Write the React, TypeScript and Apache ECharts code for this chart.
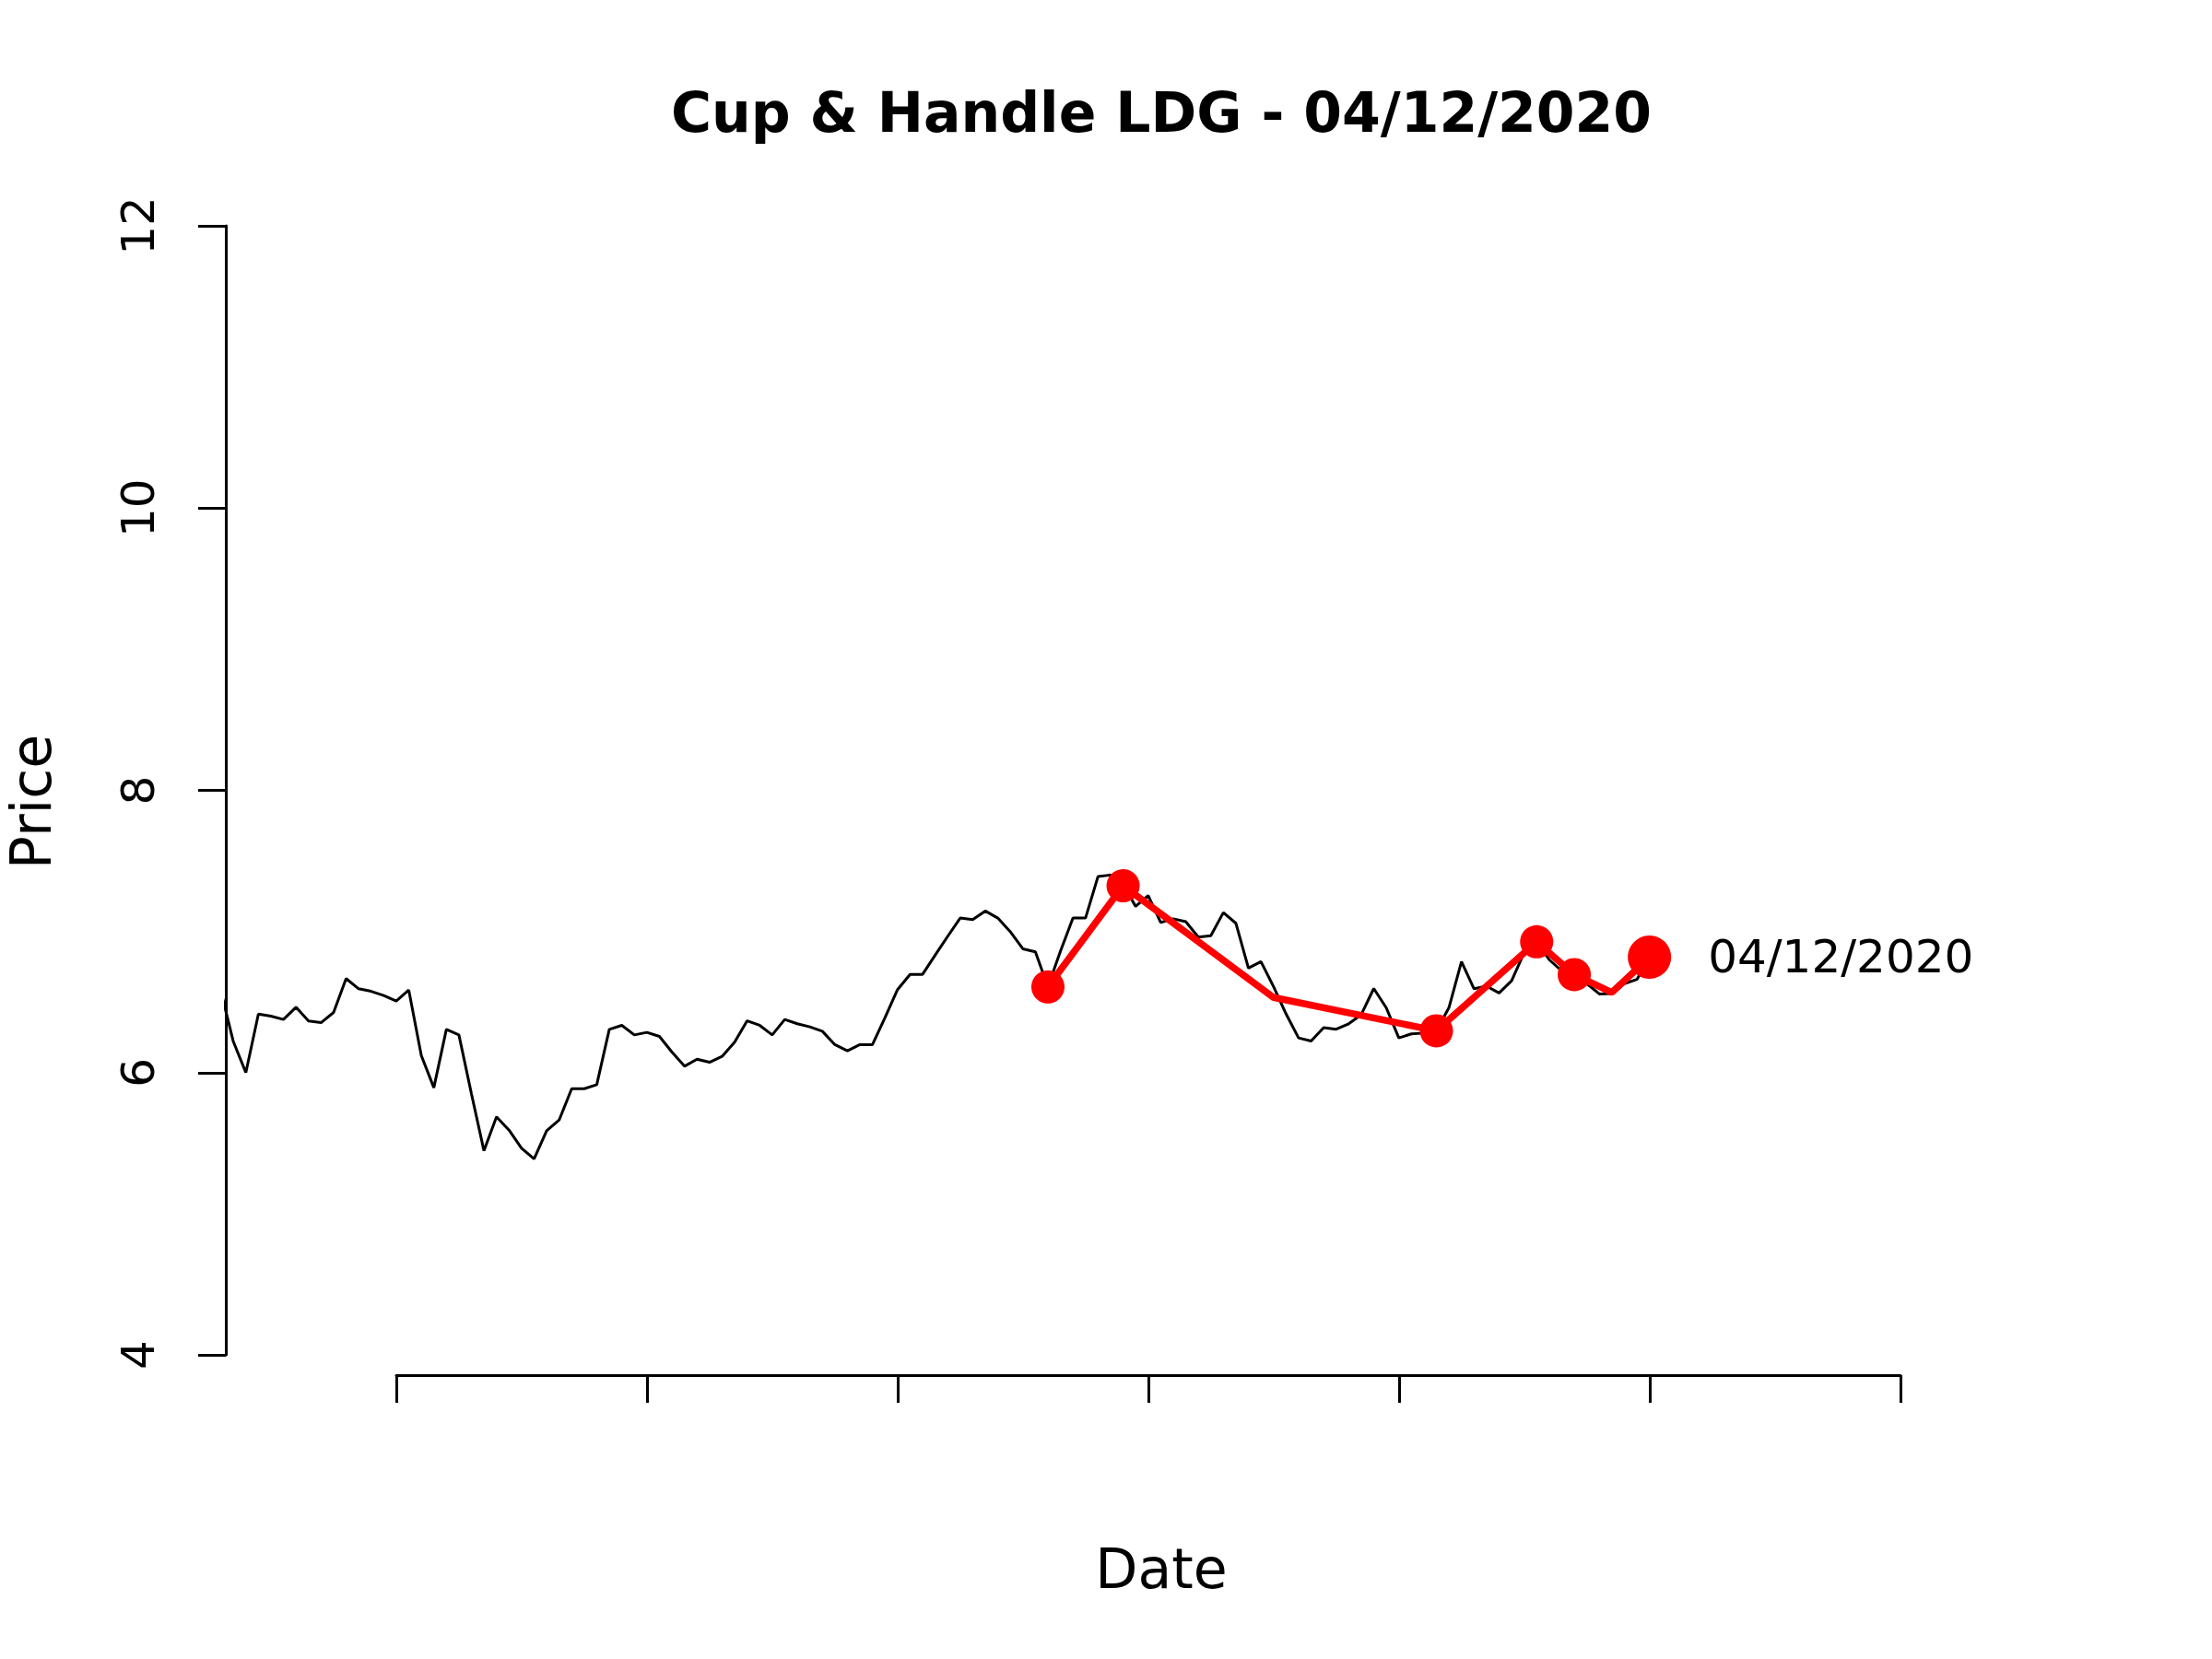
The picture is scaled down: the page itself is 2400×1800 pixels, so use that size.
import React, { useEffect, useRef } from "react";
import * as echarts from "echarts";

const TITLE = "Cup & Handle LDG - 04/12/2020";
const X_LABEL = "Date";
const Y_LABEL = "Price";
const CURRENT_LABEL = "04/12/2020";

// trading-day index of the first price in closePrices
const FIRST_DAY = 6;
const closePrices = [
  6.58, 6.22, 6.0, 6.415, 6.4, 6.376, 6.463, 6.365, 6.354, 6.426,
  6.666, 6.594, 6.576, 6.546, 6.507, 6.585, 6.121, 5.893, 6.306, 6.267,
  5.85, 5.446, 5.686, 5.592, 5.464, 5.388, 5.588, 5.664, 5.886, 5.886,
  5.914, 6.306, 6.335, 6.267, 6.285, 6.256, 6.145, 6.045, 6.095, 6.073,
  6.115, 6.215, 6.367, 6.335, 6.267, 6.376, 6.346, 6.324, 6.293, 6.198,
  6.154, 6.198, 6.198, 6.39, 6.588, 6.696, 6.696, 6.832, 6.965, 7.095,
  7.084, 7.145, 7.095, 6.998, 6.877, 6.856, 6.607, 6.86, 7.095, 7.095,
  7.39, 7.4, 7.33, 7.178, 7.254, 7.064, 7.09, 7.069, 6.96, 6.97,
  7.134, 7.058, 6.74, 6.786, 6.61, 6.416, 6.246, 6.224, 6.318, 6.307,
  6.346, 6.41, 6.596, 6.459, 6.246, 6.274, 6.28, 6.296, 6.46, 6.786,
  6.594, 6.612, 6.564, 6.651, 6.85, 6.927, 6.8, 6.72, 6.694, 6.63,
  6.557, 6.56, 6.63, 6.66, 6.818,
];

const patternDays = [72, 78, 90, 103, 111, 114, 117, 120];
const patternPrices = [6.607, 7.324, 6.532, 6.296, 6.927, 6.694, 6.568, 6.818];
const patternMarked = [true, true, false, true, true, true, false, true];

const yTicks = [4, 6, 8, 10, 12];
const xTicks = [20, 40, 60, 80, 100, 120, 140];
const xView = [6.4, 155.4];

const FONT = "DejaVu Sans";

export default function App() {
  const ref = useRef<HTMLDivElement>(null);

  useEffect(() => {
    if (!ref.current) return;
    const chart = echarts.init(ref.current, undefined, { renderer: "svg" });
    const last = patternDays.length - 1;
    const option: any = {
      animation: false,
      backgroundColor: "#ffffff",
      grid: [
        { left: 245, top: 245, width: 2026, height: 1225 },
        { left: 430, top: 1442, width: 1632, height: 50 },
      ],
      xAxis: [
        { type: "value", gridIndex: 0, min: xView[0], max: xView[1], show: false },
        {
          type: "value",
          gridIndex: 1,
          min: xTicks[0],
          max: xTicks[xTicks.length - 1],
          interval: xTicks[1] - xTicks[0],
          position: "bottom",
          axisLine: { show: true, onZero: false, lineStyle: { color: "#000", width: 3 } },
          axisTick: { show: true, length: 30, lineStyle: { color: "#000", width: 3 } },
          axisLabel: { show: false },
          splitLine: { show: false },
        },
      ],
      yAxis: [
        {
          type: "value",
          gridIndex: 0,
          min: yTicks[0],
          max: yTicks[yTicks.length - 1],
          interval: yTicks[1] - yTicks[0],
          position: "left",
          axisLine: { show: true, onZero: false, lineStyle: { color: "#000", width: 3 } },
          axisTick: { show: true, length: 30, lineStyle: { color: "#000", width: 3 } },
          axisLabel: { rotate: 90, fontSize: 50, color: "#000", fontFamily: FONT, margin: 70 },
          splitLine: { show: false },
        },
        { type: "value", gridIndex: 1, show: false, min: 0, max: 1 },
      ],
      graphic: [
        {
          type: "text",
          x: 1260,
          y: 122,
          style: {
            text: TITLE,
            fontFamily: FONT,
            fontWeight: "bold",
            fontSize: 60,
            fill: "#000",
            textAlign: "center",
            textVerticalAlign: "middle",
          },
        },
        {
          type: "text",
          x: 1260,
          y: 1702,
          style: {
            text: X_LABEL,
            fontFamily: FONT,
            fontSize: 60,
            fill: "#000",
            textAlign: "center",
            textVerticalAlign: "middle",
          },
        },
        {
          type: "text",
          x: 34,
          y: 870,
          rotation: Math.PI / 2,
          style: {
            text: Y_LABEL,
            fontFamily: FONT,
            fontSize: 60,
            fill: "#000",
            textAlign: "center",
            textVerticalAlign: "middle",
          },
        },
      ],
      series: [
        {
          type: "line",
          xAxisIndex: 0,
          yAxisIndex: 0,
          data: closePrices.map((v, k) => [FIRST_DAY + k, v]),
          symbol: "none",
          showSymbol: false,
          lineStyle: { color: "#000", width: 3 },
          clip: true,
          z: 2,
        },
        {
          type: "line",
          xAxisIndex: 0,
          yAxisIndex: 0,
          data: patternDays.map((d, k) => ({
            value: [d, patternPrices[k]],
            symbol: patternMarked[k] ? "circle" : "none",
            symbolSize: k === last ? 47 : 36,
            label:
              k === last
                ? {
                    show: true,
                    position: "right",
                    distance: 40,
                    formatter: CURRENT_LABEL,
                    fontSize: 50,
                    fontFamily: FONT,
                    color: "#000",
                  }
                : { show: false },
          })),
          showAllSymbol: true,
          lineStyle: { color: "#ff0000", width: 7.5 },
          itemStyle: { color: "#ff0000" },
          z: 3,
        },
      ],
    };
    chart.setOption(option);
    return () => chart.dispose();
  }, []);

  return (
    <div
      ref={ref}
      style={{ position: "absolute", left: 0, top: 0, width: 2400, height: 1800, background: "#fff" }}
    />
  );
}
